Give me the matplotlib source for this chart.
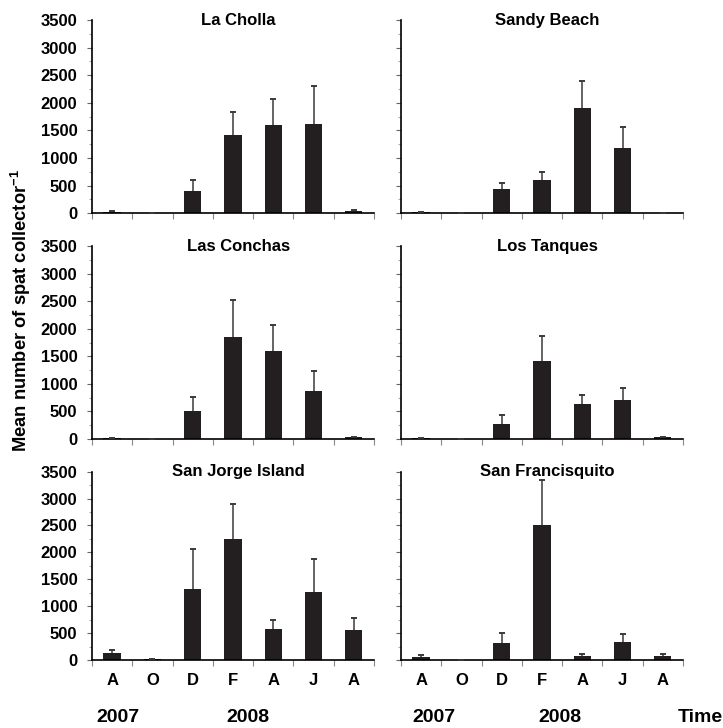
import matplotlib
matplotlib.use("Agg")
import matplotlib.pyplot as plt
from matplotlib.ticker import MultipleLocator

plt.rcParams['font.family'] = ['Liberation Sans', 'DejaVu Sans']
plt.rcParams['font.weight'] = 'bold'
plt.rcParams['mathtext.fontset'] = 'custom'
plt.rcParams['mathtext.rm'] = 'Liberation Sans:bold'
plt.rcParams['mathtext.bf'] = 'Liberation Sans:bold'

months = ['A', 'O', 'D', 'F', 'A', 'J', 'A']

sites = ['La Cholla', 'Sandy Beach', 'Las Conchas',
         'Los Tanques', 'San Jorge Island', 'San Francisquito']

# mean spat per collector and upper error, one list per site
la_cholla = [30, 10, 400, 1410, 1600, 1610, 40]
la_cholla_err = [5, 0, 210, 430, 470, 700, 25]
sandy_beach = [20, 10, 440, 600, 1910, 1180, 0]
sandy_beach_err = [5, 0, 110, 150, 480, 390, 0]
las_conchas = [10, 0, 510, 1850, 1600, 870, 30]
las_conchas_err = [0, 0, 255, 680, 470, 360, 5]
los_tanques = [10, 0, 270, 1410, 640, 700, 30]
los_tanques_err = [0, 0, 165, 450, 160, 225, 10]
san_jorge = [135, 10, 1325, 2240, 575, 1270, 560]
san_jorge_err = [55, 0, 740, 655, 160, 600, 220]
san_francisquito = [55, 5, 320, 2500, 80, 330, 80]
san_francisquito_err = [35, 0, 190, 850, 30, 150, 40]

means = [la_cholla, sandy_beach, las_conchas, los_tanques, san_jorge, san_francisquito]
errs = [la_cholla_err, sandy_beach_err, las_conchas_err, los_tanques_err,
        san_jorge_err, san_francisquito_err]

fig = plt.figure(figsize=(7.23, 7.28), dpi=100)

lefts = [0.1272, 0.5546]
bottoms = [0.707, 0.397, 0.0934]
heights = [0.2655, 0.265, 0.2587]
w = 0.39

x = list(range(len(months)))
for i, name in enumerate(sites):
    r, c = divmod(i, 2)
    ax = fig.add_axes([lefts[c], bottoms[r], w, heights[r]])
    ax.bar(x, means[i], width=0.43, color='#231f20', zorder=2)
    # upper whisker only, cap at the top end
    ax.errorbar(x, means[i], yerr=[[0] * len(x), errs[i]], fmt='none',
                ecolor='#3a3a3a', elinewidth=1.1, capsize=0, zorder=3)
    tops = [m + e for m, e in zip(means[i], errs[i])]
    ax.plot(x, tops, ls='none', marker='_', ms=5, mew=1.4, color='#3a3a3a', zorder=3)
    ax.set_xlim(-0.5, 6.5)
    ax.set_ylim(0, 3500)
    ax.yaxis.set_major_locator(MultipleLocator(500))
    ax.yaxis.set_minor_locator(MultipleLocator(250))
    ax.set_xticks([k - 0.5 for k in range(8)])
    ax.set_xticklabels([])
    ax.set_xticks(x, minor=True)
    ax.tick_params(axis='x', which='major', direction='out', length=4, width=0.8, color='#888888')
    ax.tick_params(axis='x', which='minor', length=0, pad=9, labelsize=12)
    ax.tick_params(axis='y', which='major', direction='out', length=3.5, width=0.8,
                   color='#666666', pad=7, labelsize=12)
    ax.tick_params(axis='y', which='minor', direction='out', length=2.5, width=0.8, color='#aaaaaa')
    for s in ['top', 'right']:
        ax.spines[s].set_visible(False)
    ax.spines['left'].set_linewidth(1.2)
    ax.spines['bottom'].set_linewidth(1.2)
    if c == 1:
        ax.set_yticklabels([])
    if r == 2:
        ax.set_xticklabels(months, minor=True, fontweight='bold')
        if c == 0:
            ax.text(0.15, -0.305, '2007', transform=ax.get_xaxis_transform(), fontsize=14,
                    ha='center', va='center', fontweight='bold')
            ax.text(3.38, -0.305, '2008', transform=ax.get_xaxis_transform(), fontsize=14,
                    ha='center', va='center', fontweight='bold')
        else:
            ax.text(0.32, -0.305, '2007', transform=ax.get_xaxis_transform(), fontsize=14,
                    ha='center', va='center', fontweight='bold')
            ax.text(3.45, -0.305, '2008', transform=ax.get_xaxis_transform(), fontsize=14,
                    ha='center', va='center', fontweight='bold')
            ax.text(6.94, -0.305, 'Time', transform=ax.get_xaxis_transform(), fontsize=14,
                    ha='center', va='center', fontweight='bold')
    ax.text(0.52, 1.0, name, transform=ax.transAxes, ha='center', va='center',
            fontsize=12, fontweight='bold')

fig.text(0.029, 0.574, r'Mean number of spat collector$^{-1}$', rotation=90,
         ha='center', va='center', fontsize=13.2, fontweight='bold')

fig.savefig('out.png', dpi=100)
